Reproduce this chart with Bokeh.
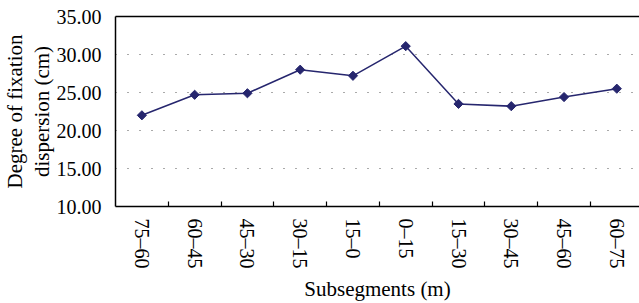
import math
from bokeh.plotting import figure
from bokeh.models import Range1d, FixedTicker, LinearAxis, NumeralTickFormatter
from bokeh.embed import file_html
from bokeh.resources import INLINE

categories = ["75–60", "60–45", "45–30", "30–15", "15–0",
              "0–15", "15–30", "30–45", "45–60", "60–75"]
values = [22.0, 24.7, 24.9, 28.0, 27.2, 31.1, 23.5, 23.2, 24.4, 25.5]
y_ticks = [10, 15, 20, 25, 30, 35]

FONT = "Liberation Serif"
TICK_FS = "20px"
LABEL_FS = "21px"
LINE = "#26266E"

xs = [i + 0.5 for i in range(len(categories))]

p = figure(width=639, height=303, output_backend="svg", toolbar_location=None,
           x_range=Range1d(0, 9.93), y_range=Range1d(10, 35),
           min_border_left=106, min_border_right=0, min_border_top=16,
           min_border_bottom=96)
p.outline_line_color = None
p.background_fill_color = "white"
p.border_fill_color = "white"

p.line(xs, values, line_color=LINE, line_width=1.5)
p.scatter(xs, values, marker="square", angle=math.pi / 4, size=6.5,
          fill_color=LINE, line_color=LINE)

# x axis
xa = p.xaxis[0]
xa.ticker = FixedTicker(ticks=xs, minor_ticks=list(range(1, len(categories))))
xa.major_label_overrides = {x: c for x, c in zip(xs, categories)}
xa.major_label_orientation = "vertical"
xa.major_tick_line_color = None
xa.minor_tick_in = 5
xa.minor_tick_out = 0
xa.minor_tick_line_color = "black"
xa.minor_tick_line_width = 1.2
xa.axis_line_color = "black"
xa.axis_line_width = 1.5
xa.major_label_standoff = 6
xa.major_label_text_font = FONT
xa.major_label_text_font_size = TICK_FS
xa.major_label_text_color = "black"
xa.axis_label = "Subsegments (m)"
xa.axis_label_text_font = FONT
xa.axis_label_text_font_size = LABEL_FS
xa.axis_label_text_font_style = "normal"
xa.axis_label_text_color = "black"
xa.axis_label_text_line_height = 1.0
xa.axis_label_standoff = 5

# y axis
ya = p.yaxis[0]
ya.ticker = FixedTicker(ticks=y_ticks)
ya.formatter = NumeralTickFormatter(format="0.00")
ya.major_tick_line_color = None
ya.minor_tick_line_color = None
ya.axis_line_color = "black"
ya.axis_line_width = 1.5
ya.major_label_standoff = 8
ya.major_label_text_font = FONT
ya.major_label_text_font_size = TICK_FS
ya.major_label_text_color = "black"
ya.axis_label = "Degree of fixation\ndispersion (cm)"
ya.axis_label_text_font = FONT
ya.axis_label_text_font_size = LABEL_FS
ya.axis_label_text_font_style = "normal"
ya.axis_label_text_color = "black"
ya.axis_label_text_line_height = 1.1
ya.axis_label_standoff = 0

# top border line
top = LinearAxis(ticker=FixedTicker(ticks=[]), axis_line_color="black",
                 axis_line_width=1.5, major_tick_line_color=None,
                 minor_tick_line_color=None)
p.add_layout(top, "above")

p.xgrid.grid_line_color = None
p.ygrid.ticker = FixedTicker(ticks=y_ticks)
p.ygrid.grid_line_color = "#555555"
p.ygrid.grid_line_width = 1.2
p.ygrid.grid_line_dash = "1 11"

open("out.html", "w").write(file_html(p, INLINE))
